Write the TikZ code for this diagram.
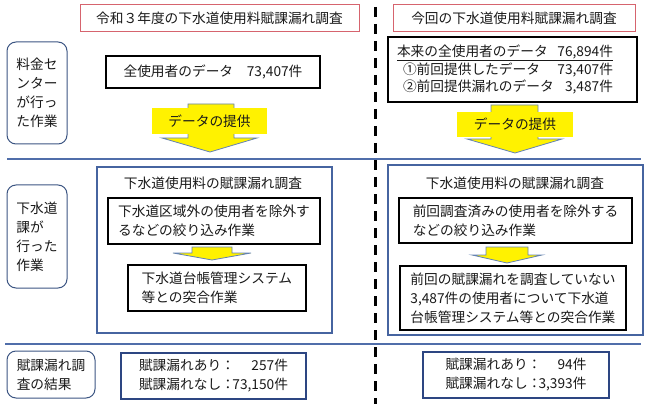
\documentclass[tikz,border=0pt]{standalone}
\usepackage{fontspec}
\setmainfont{Noto Sans CJK JP}
\definecolor{redb}{RGB}{214,100,110}
\definecolor{labc}{RGB}{60,85,130}
\definecolor{bigc}{RGB}{70,100,160}
\definecolor{resc}{RGB}{45,70,130}
\definecolor{sepc}{RGB}{80,110,170}
\definecolor{arrc}{RGB}{100,130,180}
\definecolor{txtc}{RGB}{25,25,25}
\begin{document}
\begin{tikzpicture}[x=1pt,y=-1pt,
  txt/.style={font=\fontsize{13.7pt}{19pt}\selectfont, text=txtc, inner sep=0pt},
  titlebox/.style={draw=redb, line width=1pt, txt, minimum height=27pt},
  lab/.style={draw=labc, line width=1pt, rounded corners=9pt, txt, align=left},
  blk/.style={draw=black, line width=1.8pt, txt},
  inbox/.style={draw=black, line width=1.3pt, txt, align=left},
  bigbox/.style={draw=bigc, line width=1.5pt, inner sep=0pt},
  resbox/.style={draw=resc, line width=2pt, txt, align=left},
  sepline/.style={draw=sepc, line width=1.5pt},
  barrow/.style={fill=yellow, draw=arrc, line width=0.8pt, line join=miter},
  ylab/.style={fill=yellow, txt},
  divider/.style={line width=3pt, dash pattern=on 10pt off 7pt},
]
\useasboundingbox (0,0) rectangle (650,406);

% divider
\coordinate (dtop) at (375,7);
\coordinate (dbot) at (375,404);
\draw[divider] (dtop) -- (dbot);

% separators
\coordinate (s1a) at (7,159);
\coordinate (s1b) at (641,159);
\coordinate (s2a) at (5,344);
\coordinate (s2b) at (641,344);
\draw[sepline] (s1a) -- (s1b);
\draw[sepline] (s2a) -- (s2b);

% titles
\node[titlebox, minimum width=279pt] (ltitle) at (219.5,18.5) {令和３年度の下水道使用料賦課漏れ調査};
\node[titlebox, minimum width=242pt] (rtitle) at (514,18.5) {今回の下水道使用料賦課漏れ調査};

% row labels
\node[lab, minimum width=60pt, minimum height=102pt] (lab1) at (37,93) {料金セ\\ンター\\が行っ\\た作業};
\node[lab, minimum width=60pt, minimum height=103pt] (lab2) at (37,236.5) {下水道\\課が\\行った\\作業};
\node[lab, minimum width=88pt, minimum height=47pt] (lab3) at (51,374.5) {賦課漏れ調\\査の結果};

% left data box
\node[blk, minimum width=214pt, minimum height=32pt] (ldata) at (213,72) {全使用者のデータ　73,407件};

% right data box
\node[blk, minimum width=249pt, minimum height=65pt] (rdata) at (512.5,69.5) {};
\node[txt, align=left, font=\fontsize{13.7pt}{17.5pt}\selectfont] (rdatatxt) at (505,69.5)
  {\underline{\makebox[216pt][l]{本来の全使用者のデータ\hfill 76,894件}}\\
   \makebox[216pt][l]{\hspace{6pt}①前回提供したデータ\hfill 73,407件}\\
   \makebox[216pt][l]{\hspace{6pt}②前回提供漏れのデータ\hfill 3,487件}};

% big arrows
\draw[barrow] (188,104) -- (234,104) -- (234,138) -- (257,138) -- (210,152) -- (162,138) -- (188,138) -- cycle;
\node[ylab, minimum width=115pt, minimum height=26pt] (larrow) at (209.5,121) {データの提供};
\draw[barrow] (491,105) -- (538,105) -- (538,139) -- (562,139) -- (515,153) -- (467,139) -- (491,139) -- cycle;
\node[ylab, minimum width=116pt, minimum height=25pt] (rarrow) at (515,124.5) {データの提供};

% left big box
\node[bigbox, minimum width=235pt, minimum height=166pt] (lbig) at (214.5,250) {};
\node[txt] (lbigtitle) at (213,183) {下水道使用料の賦課漏れ調査};
\node[inbox, minimum width=212pt, minimum height=46pt] (lin1) at (214,221) {下水道区域外の使用者を除外す\\るなどの絞り込み作業};
\draw[barrow] (192,247) -- (232,247) -- (232,253) -- (251,253) -- (212,260) -- (173,253) -- (192,253) -- cycle;
\node[inbox, minimum width=178pt, minimum height=46pt] (lin2) at (217,288) {下水道台帳管理システム\\等との突合作業\phantom{ムムムム}};

% right big box
\node[bigbox, minimum width=255pt, minimum height=170pt] (rbig) at (515.5,250) {};
\node[txt] (rbigtitle) at (515,183) {下水道使用料の賦課漏れ調査};
\node[inbox, minimum width=233pt, minimum height=45pt] (rin1) at (515.5,220.5) {前回調査済みの使用者を除外する\\などの絞り込み作業};
\draw[barrow] (486,247) -- (528,247) -- (528,255) -- (542,255) -- (507,263) -- (472,255) -- (486,255) -- cycle;
\node[inbox, minimum width=226pt, minimum height=64pt] (rin2) at (513,298) {前回の賦課漏れを調査していない\\3,487件の使用者について下水道\\台帳管理システム等との突合作業};

% results
\node[resbox, minimum width=185pt, minimum height=46pt] (lres) at (213.5,376)
  {\makebox[96pt][l]{賦課漏れあり：}\makebox[53pt][r]{257件}\\
   \makebox[96pt][l]{賦課漏れなし：}\makebox[53pt][r]{73,150件}};
\node[resbox, minimum width=186pt, minimum height=46pt] (rres) at (516,375)
  {\makebox[96pt][l]{賦課漏れあり：}\makebox[45pt][r]{94件}\\
   \makebox[96pt][l]{賦課漏れなし：}\makebox[45pt][r]{3,393件}};
\end{tikzpicture}
\end{document}
